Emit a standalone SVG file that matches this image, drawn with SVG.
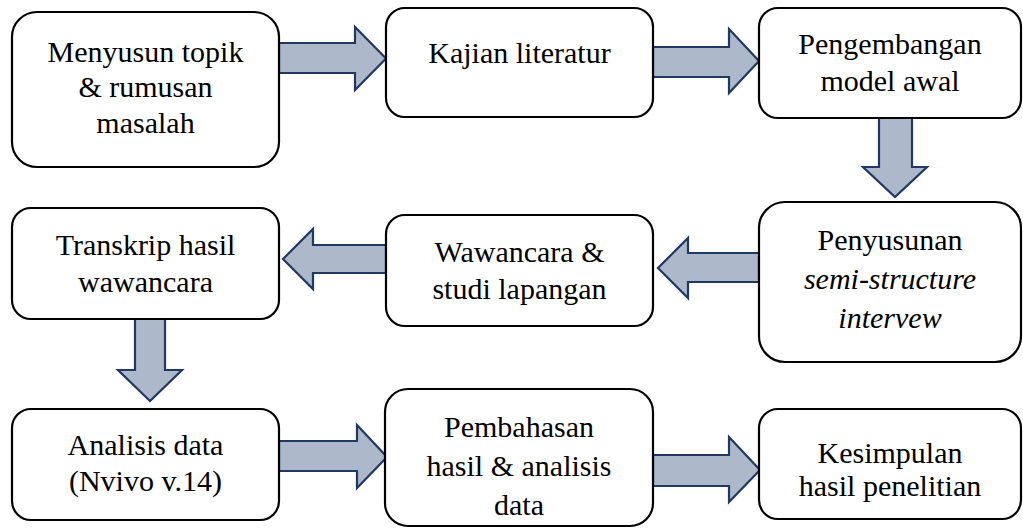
<svg xmlns="http://www.w3.org/2000/svg" width="1023" height="528" viewBox="0 0 1023 528">
  <style>
    .box { fill: #ffffff; stroke: #000000; stroke-width: 2.2; }
    .arrow { fill: #ADB9CA; stroke: #1F3864; stroke-width: 2.2; stroke-linejoin: miter; }
    .step-txt { font-size: 30px; fill: #000000; text-anchor: middle; }
    .it { font-style: italic; }
  </style>
  <rect width="1023" height="528" fill="#ffffff"/>

  <!-- connectors: block arrows between steps -->
  <g id="connectors">
    <polygon class="arrow" points="279,43 355,43 355,27 386,58.5 355,90 355,73 279,73"/>
    <polygon class="arrow" points="653,47 729,47 729,29 759,61 729,93 729,77 653,77"/>
    <polygon class="arrow" points="879,118 912,118 912,167 927,167 895,197 863,167 879,167"/>
    <polygon class="arrow" points="759,253 688,253 688,238 658,268 688,298 688,282 759,282"/>
    <polygon class="arrow" points="386,245 313,245 313,229 283,259 313,289 313,273 386,273"/>
    <polygon class="arrow" points="135,319 165,319 165,370 182,370 150,401 118,370 135,370"/>
    <polygon class="arrow" points="279,441 357,441 357,425 387,457 357,488 357,471 279,471"/>
    <polygon class="arrow" points="653,455 729,455 729,437 760,470 729,502 729,486 653,486"/>
  </g>

  <g id="step-topik">
    <rect class="box" x="12" y="12" width="267" height="155" rx="25"/>
    <text class="step-txt" style="font-family:'Liberation Serif'" x="145.5" y="61.5">Menyusun topik</text>
    <text class="step-txt" style="font-family:'Liberation Serif'" x="145.5" y="97">&amp; rumusan</text>
    <text class="step-txt" style="font-family:'Liberation Serif'" x="145.5" y="132.5">masalah</text>
  </g>

  <g id="step-literatur">
    <rect class="box" x="386" y="8" width="267" height="109" rx="19"/>
    <text class="step-txt" style="font-family:'Liberation Serif'" x="519.5" y="63">Kajian literatur</text>
  </g>

  <g id="step-model">
    <rect class="box" x="759" y="8" width="262" height="110" rx="19"/>
    <text class="step-txt" style="font-family:'Liberation Serif'" x="890" y="54">Pengembangan</text>
    <text class="step-txt" style="font-family:'Liberation Serif'" x="890" y="90.5">model awal</text>
  </g>

  <g id="step-interview">
    <rect class="box" x="759" y="202" width="262" height="160" rx="26"/>
    <text class="step-txt" style="font-family:'Liberation Serif'" x="890" y="250">Penyusunan</text>
    <text class="step-txt it" style="font-family:'Liberation Serif'" x="890" y="289">semi-structure</text>
    <text class="step-txt it" style="font-family:'Liberation Serif'" x="890" y="328">intervew</text>
  </g>

  <g id="step-wawancara">
    <rect class="box" x="386" y="215" width="267" height="111" rx="19"/>
    <text class="step-txt" style="font-family:'Liberation Serif'" x="519.5" y="262">Wawancara &amp;</text>
    <text class="step-txt" style="font-family:'Liberation Serif'" x="519.5" y="299">studi lapangan</text>
  </g>

  <g id="step-transkrip">
    <rect class="box" x="12" y="208" width="267" height="111" rx="19"/>
    <text class="step-txt" style="font-family:'Liberation Serif'" x="145.5" y="255">Transkrip hasil</text>
    <text class="step-txt" style="font-family:'Liberation Serif'" x="145.5" y="292">wawancara</text>
  </g>

  <g id="step-analisis">
    <rect class="box" x="12" y="409" width="267" height="111" rx="19"/>
    <text class="step-txt" style="font-family:'Liberation Serif'" x="145.5" y="455">Analisis data</text>
    <text class="step-txt" style="font-family:'Liberation Serif'" x="145.5" y="491">(Nvivo v.14)</text>
  </g>

  <g id="step-pembahasan">
    <rect class="box" x="385" y="389" width="268" height="137" rx="23"/>
    <text class="step-txt" style="font-family:'Liberation Serif'" x="519" y="437">Pembahasan</text>
    <text class="step-txt" style="font-family:'Liberation Serif'" x="519" y="476">hasil &amp; analisis</text>
    <text class="step-txt" style="font-family:'Liberation Serif'" x="519" y="515">data</text>
  </g>

  <g id="step-kesimpulan">
    <rect class="box" x="759" y="409" width="262" height="110" rx="19"/>
    <text class="step-txt" style="font-family:'Liberation Serif'" x="890" y="462.5">Kesimpulan</text>
    <text class="step-txt" style="font-family:'Liberation Serif'" x="890" y="496">hasil penelitian</text>
  </g>
</svg>
